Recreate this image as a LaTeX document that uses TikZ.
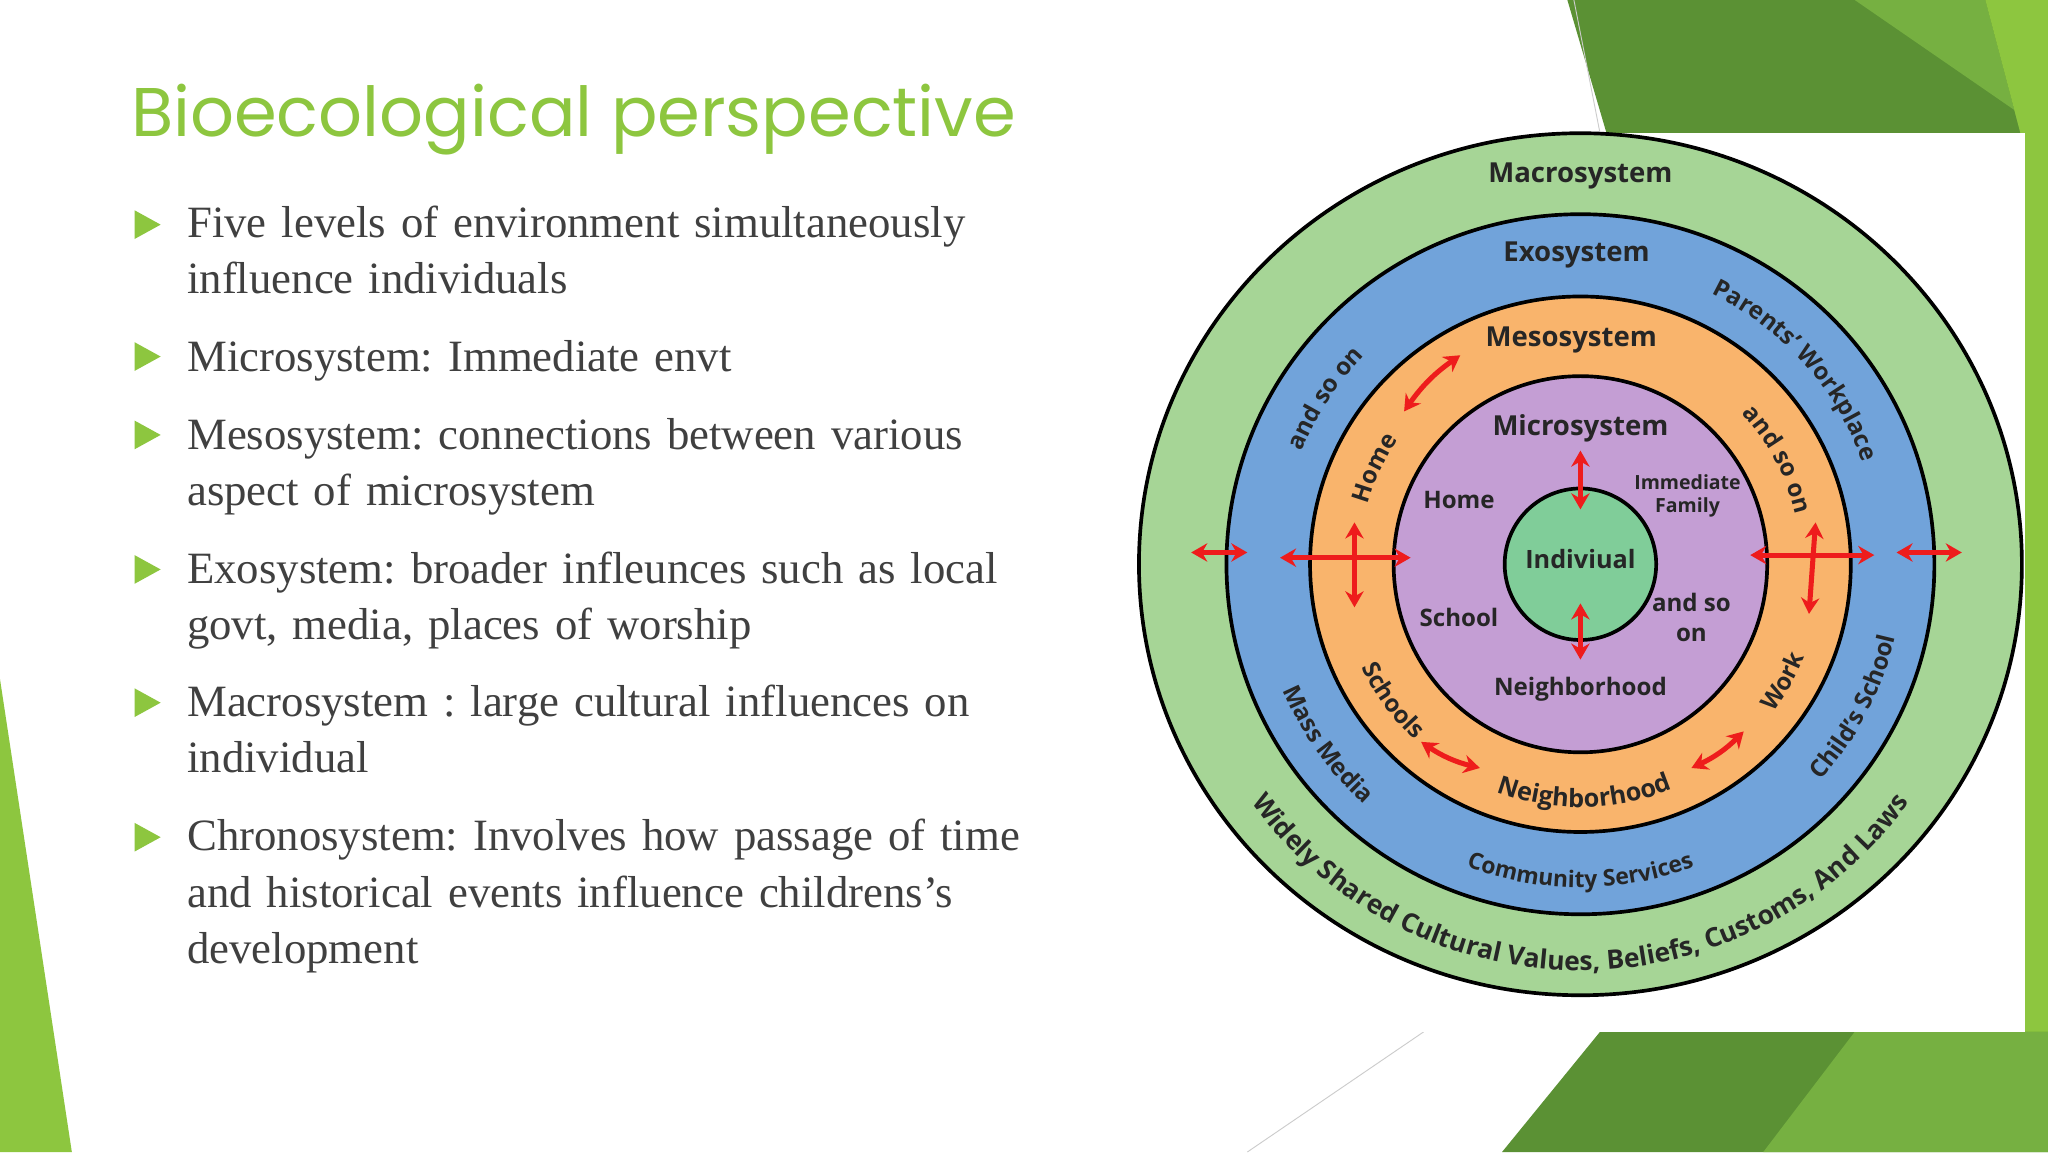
\documentclass[tikz,border=0pt]{standalone}
\usepackage{fontspec}
\setmainfont{Liberation Serif}
\setsansfont{Open Sans}
\newfontfamily\titlefont{Poppins}
\usetikzlibrary{decorations.text,arrows.meta,calc}
\newcommand{\nohyphx}{\hyphenpenalty 10000 \exhyphenpenalty 10000 \frenchspacing}
\definecolor{tgreen}{HTML}{8DC63F}
\definecolor{dgreen}{HTML}{5B9134}
\definecolor{mgreen}{HTML}{76B041}
\definecolor{ringgreen}{HTML}{A6D596}
\definecolor{ringblue}{HTML}{71A3DA}
\definecolor{ringorange}{HTML}{F9B46C}
\definecolor{ringpurple}{HTML}{C49ED4}
\definecolor{coregreen}{HTML}{80CD99}
\definecolor{bodygray}{HTML}{404040}
\definecolor{arrred}{HTML}{EE1C1C}
\tikzset{
 ring/.style={draw=black,line width=1.6pt},
 bul/.style={fill=tgreen,draw=none},
 btext/.style={anchor=north west,inner sep=0pt,text width=13.3cm,align=left,text=bodygray,font=\fontsize{19.5}{24.5}\selectfont\nohyphx},
 lab/.style={font=\sffamily\bfseries\fontsize{12}{14}\selectfont,text=black!85},
 slab/.style={font=\sffamily\bfseries\fontsize{9.5}{11}\selectfont,text=black!85,align=center},
 redarr/.style={draw=arrred,line width=2.2pt,{Stealth[length=7pt,width=8pt]}-{Stealth[length=7pt,width=8pt]}},
}
\newcommand{\arclab}[5]{% start, end, radius(cm), size, text
 \path[decorate,decoration={text along path,text align=center,
  text={|\sffamily\bfseries\fontsize{#4}{#4}\selectfont\color{black!85}|#5}}]
  ($(C)+(#1:#3cm)$) arc[start angle=#1,end angle=#2,radius=#3cm];}
\begin{document}
\begin{tikzpicture}
\useasboundingbox (0,0) rectangle (31.36,17.64);
\fill[white] (0,0) rectangle (31.36,17.64);
% background shapes
\fill[dgreen] (24,17.64) -- (31.36,17.64) -- (31.36,15.6) -- (24.6,15.6) -- cycle;
\fill[mgreen] (28.4,17.64) -- (30.4,17.64) -- (31.36,14) -- (31.36,15.6) -- cycle;
\fill[tgreen] (30.4,17.64) -- (31.36,17.64) -- (31.36,14) -- cycle;
\fill[tgreen] (31,1.84) rectangle (31.36,15.6);
\fill[dgreen] (23,0) -- (24.5,1.84) -- (31.36,1.84) -- (31.36,0) -- cycle;
\fill[mgreen] (27,0) -- (28.4,1.84) -- (31.36,1.84) -- (31.36,0) -- cycle;
\fill[tgreen] (0,7.24) -- (1.1,0) -- (0,0) -- cycle;
\draw[black!20,line width=0.4pt] (19.1,0) -- (21.8,1.84);
\draw[black!20,line width=0.4pt] (24.1,17.64) -- (24.5,15.6);
\fill[white] (17.16,1.84) rectangle (31.0,15.6);
% title
\node[anchor=base west,inner sep=0pt,text=tgreen,font=\titlefont\fontsize{30}{36}\selectfont] (title) at (2.0,15.55) {Bioecological perspective};
% bullets
\foreach \y in {14.2,12.18,10.98,8.92,6.88,4.82}{\fill[bul] (2.06,\y+0.22) -- (2.46,\y) -- (2.06,\y-0.22) -- cycle;}
\node[btext] (b1) at (2.86,14.5) {Five levels of environment simultaneously influence individuals};
\node[btext] (b2) at (2.86,12.44) {Microsystem: Immediate envt};
\node[btext] (b3) at (2.86,11.24) {Mesosystem: connections between various aspect of microsystem};
\node[btext] (b4) at (2.86,9.2) {Exosystem: broader infleunces such as local govt, media, places of worship};
\node[btext] (b5) at (2.86,7.16) {Macrosystem : large cultural influences on individual};
\node[btext] (b6) at (2.86,5.1) {Chronosystem: Involves how passage of time and historical events influence childrens’s development};
% circles
\coordinate (C) at (24.2,9.0);
\filldraw[ring,fill=ringgreen] (C) ellipse[x radius=6.76cm,y radius=6.6cm];
\filldraw[ring,fill=ringblue] (C) ellipse[x radius=5.42cm,y radius=5.36cm];
\filldraw[ring,fill=ringorange] (C) ellipse[x radius=4.14cm,y radius=4.1cm];
\filldraw[ring,fill=ringpurple] (C) ellipse[x radius=2.86cm,y radius=2.88cm];
\filldraw[ring,fill=coregreen] (C) circle[radius=1.16cm];
% labels
\node[lab] (mac) at (24.2,14.94) {Macrosystem};
\node[lab] (exo) at (24.14,13.74) {Exosystem};
\node[lab] (mes) at (24.06,12.44) {Mesosystem};
\node[lab] (mic) at (24.2,11.08) {Microsystem};
\node[lab,font=\sffamily\bfseries\fontsize{11}{13}\selectfont] (ind) at (24.2,9.08) {Indiviual};
\node[slab,font=\sffamily\bfseries\fontsize{10.5}{12}\selectfont] (home) at (22.34,9.98) {Home};
\node[slab,font=\sffamily\bfseries\fontsize{10.5}{12}\selectfont] (school) at (22.34,8.18) {School};
\node[slab,font=\sffamily\bfseries\fontsize{8.5}{10}\selectfont] (fam) at (25.84,10.04) {Immediate\\Family};
\node[slab,font=\sffamily\bfseries\fontsize{10.5}{13}\selectfont] (aso) at (25.9,8.18) {and so\\on};
\node[slab,font=\sffamily\bfseries\fontsize{10.5}{12}\selectfont] (nbh) at (24.2,7.08) {Neighborhood};
% curved labels
\arclab{200}{340}{6.22}{11.5}{Widely Shared Cultural Values{,} Beliefs{,} Customs{,} And Laws}
\arclab{193}{238}{4.95}{10.5}{Mass Media}
\arclab{-47}{-8}{4.95}{10.5}{Child’s School}
\arclab{245}{295}{4.95}{10}{Community Services}
\arclab{68}{16}{4.6}{10.5}{Parents’ Workplace}
\arclab{162}{132}{4.6}{10.5}{and so on}
\arclab{170}{140}{3.38}{10.5}{Home}
\arclab{46}{10}{3.38}{10.5}{and so on}
\arclab{198}{234}{3.7}{10.5}{Schools}
\arclab{244}{298}{3.72}{11}{Neighborhood}
\arclab{316}{344}{3.72}{10.5}{Work}
% arrows
\coordinate (l1a) at (18.24,9.18); \coordinate (l1b) at (19.1,9.18);
\coordinate (l2a) at (19.6,9.1); \coordinate (l2b) at (21.6,9.1);
\coordinate (lva) at (20.74,9.64); \coordinate (lvb) at (20.74,8.34);
\coordinate (r1a) at (26.8,9.14); \coordinate (r1b) at (28.7,9.14);
\coordinate (rva) at (27.8,9.64); \coordinate (rvb) at (27.7,8.24);
\coordinate (r2a) at (29.04,9.18); \coordinate (r2b) at (30.04,9.18);
\coordinate (iua) at (24.2,10.74); \coordinate (iub) at (24.2,9.84);
\coordinate (ida) at (24.2,8.4); \coordinate (idb) at (24.2,7.54);
\coordinate (d1a) at (21.5,11.34); \coordinate (d1b) at (22.36,12.2);
\coordinate (d2a) at (21.76,6.28); \coordinate (d2b) at (22.66,5.88);
\coordinate (d3a) at (25.9,5.88); \coordinate (d3b) at (26.7,6.44);
\foreach \a/\b in {l1a/l1b,l2a/l2b,lva/lvb,r1a/r1b,rva/rvb,r2a/r2b,iua/iub,ida/idb}{\draw[redarr] (\a) -- (\b);}
\draw[redarr] (d1a) to[bend left=10] (d1b);
\draw[redarr] (d2a) to[bend right=10] (d2b);
\draw[redarr] (d3a) to[bend right=10] (d3b);
\end{tikzpicture}
\end{document}
